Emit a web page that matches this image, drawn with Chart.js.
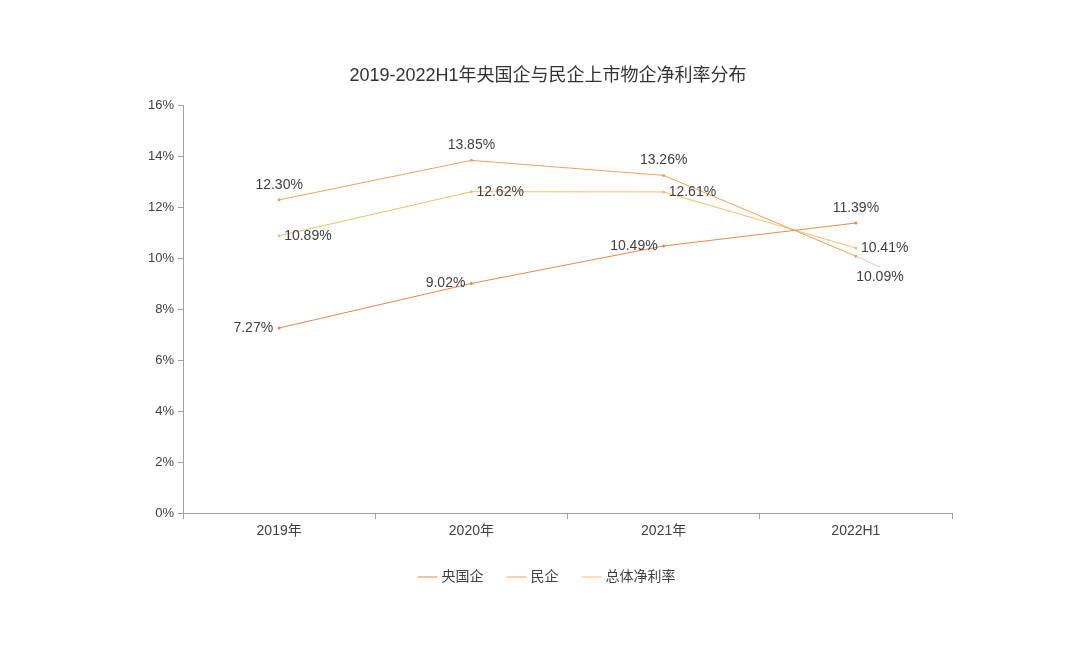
<!DOCTYPE html>
<html>
<head>
<meta charset="utf-8">
<script src="https://cdn.jsdelivr.net/npm/chart.js@4/dist/chart.umd.min.js"></script>
<style>
    html, body { margin: 0; padding: 0; background: #fff; }
    #wrap { width: 1080px; height: 648px; }
</style>
</head>
<body>
<div id="wrap"><canvas id="chart" width="1080" height="648"></canvas></div>
<script>
const categories = ["2019年", "2020年", "2021年", "2022H1"];
const stateOwned = [7.27, 9.02, 10.49, 11.39];
const privateOwned = [12.30, 13.85, 13.26, 10.09];
const overall = [10.89, 12.62, 12.61, 10.41];
const seriesNames = ["央国企", "民企", "总体净利率"];
const yTicks = [0, 2, 4, 6, 8, 10, 12, 14, 16];

const FONT = "'Liberation Sans', 'Noto Sans CJK SC', sans-serif";
const COLORS = ["#E4884C", "#F0A05C", "#F7BE6A"];

// where each series puts its value labels
const labelSpots = [
    ["left", "left", "left", "above"],
    ["above", "above", "above", "below"],
    ["right", "right", "right", "right"]
];

const valueLabels = {
    id: "valueLabels",
    afterDatasetsDraw(chart) {
        const ctx = chart.ctx;
        ctx.save();
        ctx.font = "14px " + FONT;
        ctx.fillStyle = "#404040";
        chart.data.datasets.forEach((ds, i) => {
            const meta = chart.getDatasetMeta(i);
            meta.data.forEach((pt, j) => {
                const text = ds.data[j].toFixed(2) + "%";
                const spot = labelSpots[i][j];
                let x = pt.x, y = pt.y;
                if (spot === "left") {
                    ctx.textAlign = "right"; ctx.textBaseline = "middle";
                    x -= 6;
                } else if (spot === "right") {
                    ctx.textAlign = "left"; ctx.textBaseline = "middle";
                    x += 5;
                } else if (spot === "above") {
                    ctx.textAlign = "center"; ctx.textBaseline = "bottom";
                    y -= 8;
                } else {
                    ctx.textAlign = "center"; ctx.textBaseline = "top";
                    ctx.strokeStyle = "#C8C8C8";
                    ctx.lineWidth = 1;
                    ctx.beginPath();
                    ctx.moveTo(pt.x, pt.y);
                    ctx.lineTo(pt.x + 24, pt.y + 11);
                    ctx.stroke();
                    x += 24; y += 14;
                }
                ctx.fillText(text, x, y);
            });
        });
        ctx.restore();
    }
};

const seriesData = [stateOwned, privateOwned, overall];

new Chart(document.getElementById("chart"), {
    type: "line",
    data: {
        labels: categories,
        datasets: seriesData.map((vals, i) => ({
            label: seriesNames[i],
            data: vals,
            borderColor: COLORS[i],
            backgroundColor: COLORS[i],
            borderWidth: 1,
            pointRadius: 1.5,
            pointHoverRadius: 1.5,
            pointBorderWidth: 0,
            pointStyle: "circle",
            tension: 0
        }))
    },
    options: {
        responsive: false,
        animation: false,
        layout: { padding: { left: 144, right: 128, top: 10, bottom: 54 } },
        scales: {
            x: {
                offset: true,
                grid: { display: true, drawOnChartArea: false, drawTicks: true, offset: true, tickLength: 6, color: "#A0A0A0" },
                border: { color: "#A0A0A0" },
                ticks: { color: "#404040", font: { family: FONT, size: 14 }, padding: 4 }
            },
            y: {
                min: 0,
                max: 16,
                afterBuildTicks: axis => { axis.ticks = yTicks.map(v => ({ value: v })); },
                grid: { display: true, drawOnChartArea: false, drawTicks: true, tickLength: 5, color: "#A0A0A0" },
                border: { color: "#A0A0A0" },
                ticks: {
                    color: "#404040",
                    font: { family: FONT, size: 13 },
                    padding: 4,
                    callback: v => v + "%"
                }
            }
        },
        plugins: {
            title: {
                display: true,
                text: "2019-2022H1年央国企与民企上市物企净利率分布",
                color: "#333333",
                font: { family: FONT, size: 18, weight: "normal" },
                padding: { top: 55, bottom: 19 }
            },
            legend: {
                position: "bottom",
                labels: {
                    color: "#404040",
                    font: { family: FONT, size: 14 },
                    usePointStyle: true,
                    boxWidth: 16,
                    padding: 26,
                    generateLabels: chart => chart.data.datasets.map((ds, i) => ({
                        text: ds.label,
                        fillStyle: ds.borderColor,
                        strokeStyle: ds.borderColor,
                        lineWidth: 1,
                        pointStyle: "line",
                        fontColor: "#404040",
                        datasetIndex: i
                    }))
                }
            },
            tooltip: { enabled: false }
        }
    },
    plugins: [valueLabels]
});
</script>
</body>
</html>
